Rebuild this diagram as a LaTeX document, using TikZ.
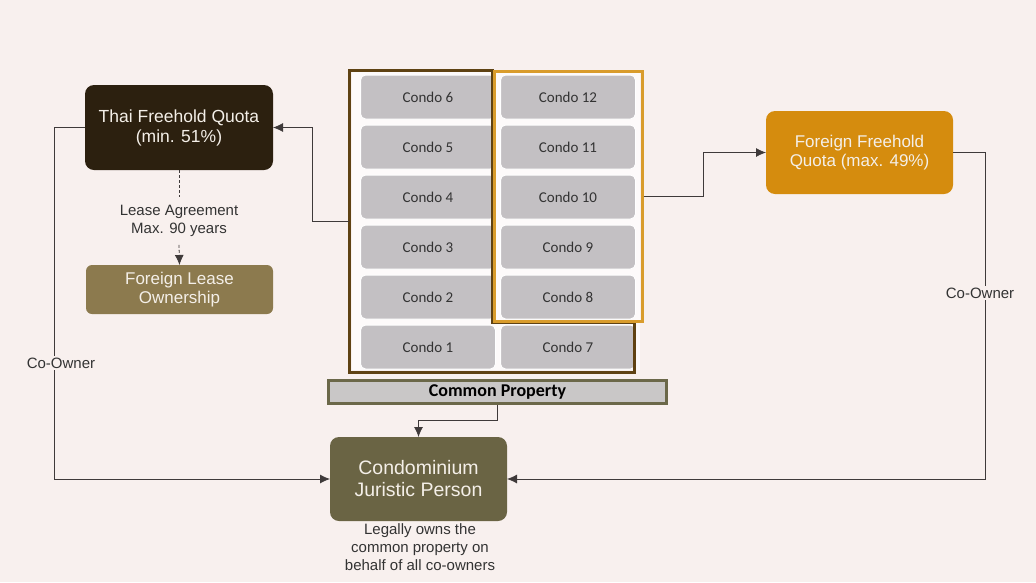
\documentclass[tikz,border=0pt]{standalone}
\usepackage{fontspec}
\setmainfont{Liberation Sans}
\newfontfamily\condofont{Carlito}
\usetikzlibrary{arrows.meta}
\definecolor{bgpink}{HTML}{F8F0EE}
\definecolor{thaibrown}{HTML}{2C200F}
\definecolor{leasebrown}{HTML}{8C7A4E}
\definecolor{foreignorange}{HTML}{D58C0E}
\definecolor{jpolive}{HTML}{6A6444}
\definecolor{cellgray}{HTML}{C3C0C3}
\definecolor{framebrown}{HTML}{5F4213}
\definecolor{framegold}{HTML}{D99C2C}
\definecolor{commongray}{HTML}{C9C7C7}
\definecolor{commonedge}{HTML}{6B6849}
\definecolor{linegray}{HTML}{3F3A3A}
\definecolor{boxtext}{HTML}{F4EFE8}

\begin{document}
\begin{tikzpicture}[
		x=1pt, y=-1pt,
		>={Latex[length=10pt,width=9pt]},
		quota/.style={rounded corners=9pt,inner sep=0pt,outer sep=0pt,
			text=boxtext,align=center,minimum width=188pt},
		cellbox/.style={rounded corners=5pt,fill=cellgray,draw=white,line width=1pt,
			minimum width=135pt,minimum height=44pt,inner sep=0pt,
			font=\condofont\fontsize{15}{17}\selectfont,text=black!80},
		link/.style={draw=linegray,line width=0.8pt},
		label/.style={fill=bgpink,inner sep=2pt,align=center,text=black!80,
			font=\fontsize{15}{18}\selectfont}
	]
		\useasboundingbox (0,0) rectangle (1036,582);
		\fill[bgpink] (0,0) rectangle (1036,582);

		% quota boxes
		\node[quota,fill=thaibrown,minimum height=85pt,font=\fontsize{17.5}{20}\selectfont]
			(thai) at (179,127.5) {Thai Freehold Quota\\(min. 51\%)};
		\node[quota,fill=leasebrown,minimum width=187pt,minimum height=49pt,
			rounded corners=6pt,font=\fontsize{17}{19}\selectfont]
			(flease) at (179.5,289.5) {Foreign Lease\\Ownership};
		\node[quota,fill=foreignorange,minimum width=187pt,minimum height=83pt,
			font=\fontsize{17}{19}\selectfont]
			(foreign) at (859.5,152.5) {Foreign Freehold\\Quota (max. 49\%)};
		\node[quota,fill=jpolive,minimum width=177pt,minimum height=84pt,
			font=\fontsize{19.5}{22}\selectfont]
			(jp) at (418.5,479) {Condominium\\Juristic Person};
		\node[label,fill=none,anchor=north]
			(jpnote) at (420,521) {Legally owns the\\common property on\\behalf of all co-owners};

		% condo units
		\fill[white!70!bgpink] (352,72) rectangle (640,370);
		\foreach \n [count=\i] in {6,5,4,3,2,1}
			\node[cellbox] (condo\n) at (428,47+50*\i) {Condo \n};
		\foreach \n [count=\i] in {12,11,10,9,8,7}
			\node[cellbox] (condo\n) at (568,47+50*\i) {Condo \n};

		% ownership frames
		\draw[framebrown,line width=3pt] (349,70) -- (492,70) -- (492,322)
			-- (634,322) -- (634,372) -- (349,372) -- cycle;
		\coordinate (thaiframe) at (349,221);
		\node[draw=framegold,line width=3pt,minimum width=148pt,minimum height=250pt,
			inner sep=0pt] (forframe) at (568,196) {};

		\node[fill=commongray,draw=commonedge,line width=3pt,minimum width=338pt,
			minimum height=23pt,inner sep=0pt,
			font=\condofont\bfseries\fontsize{18}{20}\selectfont]
			(common) at (497.5,392) {Common Property};

		% connectors
		\draw[link,->] (thaiframe) -- (312,221) |- (thai.east);
		\draw[link,->] (forframe.east) -- (703,196) |- (foreign.west);
		\draw[link,->] (foreign.east) -- (985,152.5) |- (jp.east);
		\draw[link,->] (thai.west) -- (54,127.5) |- (jp.west);
		\draw[link,->] (common.south) -- ++(0,15) -| (jp.north);

		\node[label] (coleft) at (61,363) {Co-Owner};
		\node[label] (coright) at (980,293) {Co-Owner};

		\node[label,fill=none,inner sep=8pt] (lease) at (179,221) {Lease Agreement\\Max. 90 years};
		\draw[link,densely dashed] (thai.south) -- (lease.north);
		\draw[link,densely dashed,-{Latex[length=10pt,width=9pt,sep=0pt]}] (lease.south) -- (flease.north);
	\end{tikzpicture}
\end{document}
